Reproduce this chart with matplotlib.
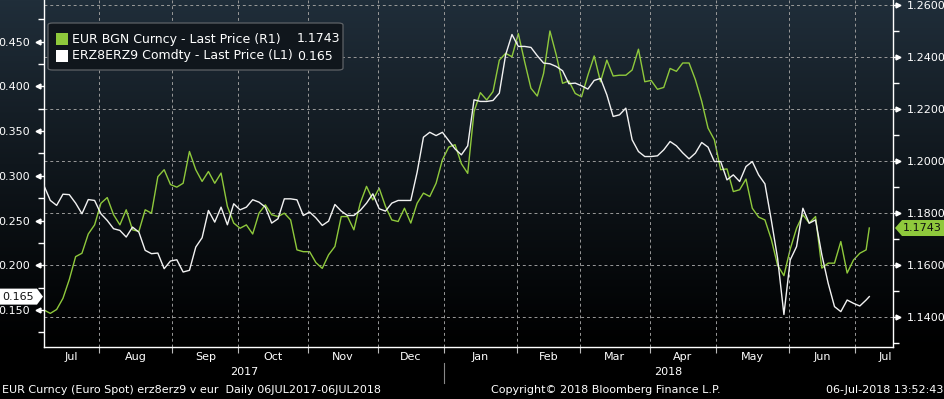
import numpy as np
import pandas as pd
import matplotlib
matplotlib.use("Agg")
import matplotlib.pyplot as plt
from matplotlib.patches import Polygon, FancyBboxPatch, Rectangle
from matplotlib.transforms import IdentityTransform, ScaledTranslation, blended_transform_factory

# chart period (business days, as on the terminal)
start_date = "2017-07-06"
end_date = "2018-07-06"

# EUR BGN Curncy - Last Price (R1), every 2nd business day + last day
eur_price = [
    1.1428, 1.1415, 1.1430, 1.1473, 1.1545, 1.1633, 1.1646, 1.1720, 1.1755, 1.1838,
    1.1860, 1.1794, 1.1755, 1.1813, 1.1736, 1.1730, 1.1813, 1.1800, 1.1940, 1.1967,
    1.1910, 1.1900, 1.1915, 1.2037, 1.1967, 1.1922, 1.1960, 1.1915, 1.1954, 1.1826,
    1.1762, 1.1742, 1.1755, 1.1720, 1.1800, 1.1832, 1.1794, 1.1787, 1.1800, 1.1774,
    1.1659, 1.1652, 1.1652, 1.1610, 1.1588, 1.1640, 1.1672, 1.1787, 1.1787, 1.1736,
    1.1838, 1.1903, 1.1851, 1.1896, 1.1826, 1.1774, 1.1768, 1.1819, 1.1762, 1.1838,
    1.1877, 1.1864, 1.1915, 1.2005, 1.2054, 1.2063, 1.1990, 1.1953, 1.2190, 1.2263,
    1.2235, 1.2267, 1.2388, 1.2414, 1.2401, 1.2490, 1.2382, 1.2280, 1.2250, 1.2337,
    1.2500, 1.2408, 1.2299, 1.2308, 1.2260, 1.2247, 1.2330, 1.2404, 1.2305, 1.2388,
    1.2327, 1.2330, 1.2330, 1.2350, 1.2430, 1.2305, 1.2310, 1.2276, 1.2283, 1.2356,
    1.2345, 1.2377, 1.2377, 1.2313, 1.2230, 1.2127, 1.2082, 1.1967, 1.1970, 1.1883,
    1.1890, 1.1931, 1.1819, 1.1785, 1.1774, 1.1700, 1.1600, 1.1560, 1.1662, 1.1742,
    1.1794, 1.1762, 1.1787, 1.1589, 1.1608, 1.1608, 1.1691, 1.1570, 1.1620, 1.1646,
    1.1659, 1.1743,
]

# ERZ8ERZ9 Comdty - Last Price (L1)
erz_price = [
    0.2890, 0.2725, 0.2670, 0.2795, 0.2790, 0.2695, 0.2576, 0.2735, 0.2725, 0.2576,
    0.2501, 0.2409, 0.2390, 0.2316, 0.2427, 0.2371, 0.2167, 0.2130, 0.2137, 0.1962,
    0.2048, 0.2062, 0.1925, 0.1944, 0.2204, 0.2308, 0.2613, 0.2483, 0.2650, 0.2453,
    0.2688, 0.2620, 0.2650, 0.2733, 0.2706, 0.2650, 0.2472, 0.2520, 0.2743, 0.2743,
    0.2732, 0.2557, 0.2595, 0.2530, 0.2446, 0.2494, 0.2680, 0.2606, 0.2557, 0.2557,
    0.2613, 0.2695, 0.2799, 0.2632, 0.2606, 0.2695, 0.2725, 0.2725, 0.2725, 0.3040,
    0.3432, 0.3487, 0.3450, 0.3487, 0.3394, 0.3301, 0.3235, 0.3336, 0.3850, 0.3832,
    0.3832, 0.3843, 0.3925, 0.4354, 0.4580, 0.4447, 0.4447, 0.4436, 0.4343, 0.4261,
    0.4253, 0.4223, 0.4175, 0.4030, 0.4037, 0.4007, 0.3970, 0.4067, 0.4089, 0.3906,
    0.3664, 0.3682, 0.3757, 0.3403, 0.3272, 0.3216, 0.3216, 0.3224, 0.3291, 0.3384,
    0.3336, 0.3257, 0.3190, 0.3254, 0.3373, 0.3321, 0.3160, 0.3160, 0.2955, 0.3011,
    0.2937, 0.3104, 0.3160, 0.3011, 0.2910, 0.2508, 0.2079, 0.1450, 0.2060, 0.2209,
    0.2638, 0.2470, 0.2508, 0.2116, 0.1799, 0.1538, 0.1482, 0.1612, 0.1575, 0.1545,
    0.1612, 0.1650,
]

left_ticks = [0.150, 0.200, 0.250, 0.300, 0.350, 0.400, 0.450]
left_minor = [0.125, 0.175, 0.225, 0.275, 0.325, 0.375, 0.425, 0.475]
right_ticks = [1.14, 1.16, 1.18, 1.20, 1.22, 1.24, 1.26]
right_minor = [1.13, 1.15, 1.17, 1.19, 1.21, 1.23, 1.25]
legend_rows = [("EUR BGN Curncy - Last Price (R1)", "1.1743"),
               ("ERZ8ERZ9 Comdty - Last Price (L1)", "0.165")]
footer_left = "EUR Curncy (Euro Spot) erz8erz9 v eur  Daily 06JUL2017-06JUL2018"
footer_mid = "Copyright\u00a9 2018 Bloomberg Finance L.P."
footer_right = "06-Jul-2018 13:52:43"

GREEN = "#8fc93c"
WHITE = "#f2f2f2"
GRID = "#9a9a9a"
plt.rcParams["font.family"] = ["DejaVu Sans"]

bdays = pd.bdate_range(start_date, end_date)
x_idx = np.r_[np.arange(0, len(bdays), 2), len(bdays) - 1]
n = min(len(x_idx), len(eur_price), len(erz_price))

fig = plt.figure(figsize=(9.45, 3.99), dpi=100)
fig.patch.set_facecolor("black")

# background gradient, dark slate at the top fading to black
bg = fig.add_axes([0, 0, 1, 1], zorder=-10)
rows = np.arange(399)
frac = np.clip(1 - rows / 350.0, 0, 1) ** 1.1
top = np.array([32, 46, 58]) / 255.0
img = frac[:, None, None] * top[None, None, :]
bg.imshow(img, aspect="auto", extent=[0, 1, 0, 1])
bg.axis("off")

ax = fig.add_axes([44 / 945, 1 - 346.7 / 399, 849 / 945, 346.7 / 399])
ax2 = ax.twinx()
ax.set_zorder(2)
ax2.set_zorder(1)
ax.patch.set_alpha(0)
ax2.patch.set_alpha(0)

ax2.plot(x_idx[:n], eur_price[:n], color=GREEN, lw=1.0, zorder=3)
ax.plot(x_idx[:n], erz_price[:n], color=WHITE, lw=1.0, zorder=3)

ax.set_xlim(0, 268.5)
ax.set_ylim(0.1090, 0.4966)
ax2.set_ylim(1.1287, 1.2619)

# month boundaries
months = bdays.to_period("M")
starts = np.where(months[1:] != months[:-1])[0] + 1
bounds = starts - 0.5
ax.set_xticks(bounds)
ax.set_xticklabels([])
ax.tick_params(axis="x", length=4, width=0.8, color="#bbbbbb", direction="out")
for b in bounds:
    ax.axvline(b, color=GRID, lw=0.7, ls=(0, (3, 3)), zorder=1)
for v in right_ticks:
    ax2.axhline(v, color=GRID, lw=0.7, ls=(0, (3, 3)), zorder=1)

# month and year labels
xtr = blended_transform_factory(ax.transData, ax.transAxes)
edges = np.r_[ax.get_xlim()[0], bounds, ax.get_xlim()[1]]
month_starts = [bdays[0]] + [bdays[s] for s in starts]
for i, d in enumerate(month_starts):
    if i == len(month_starts) - 1:
        ax.text(edges[-1] - 0.3, -0.03, d.strftime("%b"), transform=xtr, ha="right",
                va="center", color="white", fontsize=8)
    else:
        ax.text((edges[i] + edges[i + 1]) / 2, -0.03, d.strftime("%b"), transform=xtr,
                ha="center", va="center", color="white", fontsize=8)
years = sorted(set(d.year for d in month_starts))
for yr in years:
    sel = [i for i, d in enumerate(month_starts) if d.year == yr]
    x0, x1 = edges[sel[0]], edges[sel[-1] + 1]
    ax.text((x0 + x1) / 2, -0.073, str(yr), transform=xtr, ha="center", va="center",
            color="white", fontsize=8)
    if sel[0] > 0:
        ax.plot([x0, x0], [-0.046, -0.105], transform=xtr, color="#888888", lw=0.8,
                clip_on=False)

# y axes
ax.set_yticks(left_ticks)
ax.set_yticklabels(["%.3f" % v for v in left_ticks])
ax.set_yticks(left_minor, minor=True)
ax2.set_yticks(right_ticks)
ax2.set_yticklabels(["%.4f" % v for v in right_ticks])
ax2.set_yticks(right_minor, minor=True)
for a in (ax, ax2):
    a.tick_params(axis="y", which="major", length=3, width=1, color="white",
                  labelcolor="white", labelsize=8, pad=7)
    a.tick_params(axis="y", which="minor", length=4, width=1, color="white")
    for s in a.spines.values():
        s.set_visible(False)
ax.spines["left"].set_visible(True)
ax.spines["bottom"].set_visible(True)
ax2.spines["right"].set_visible(True)
for s in (ax.spines["left"], ax.spines["bottom"], ax2.spines["right"]):
    s.set_color("white")
    s.set_linewidth(1)

# bloomberg style triangles on the major ticks
tri_l = ax.get_yaxis_transform() + ScaledTranslation(-0.055, 0, fig.dpi_scale_trans)
ax.plot([0] * len(left_ticks), left_ticks, ls="none", marker="<", ms=3.5,
        color="white", transform=tri_l, clip_on=False)
tri_r = ax2.get_yaxis_transform() + ScaledTranslation(0.055, 0, fig.dpi_scale_trans)
ax2.plot([1] * len(right_ticks), right_ticks, ls="none", marker=">", ms=3.5,
         color="white", transform=tri_r, clip_on=False)

# last value tags on both axes
idt = IdentityTransform()
yl = ax.transData.transform((0, erz_price[n - 1]))[1]
xl = ax.transAxes.transform((0, 0))[0]
fig.add_artist(Polygon([(0, yl - 8), (xl - 7, yl - 8), (xl - 1, yl), (xl - 7, yl + 8), (0, yl + 8)],
                       closed=True, fc="white", ec="none", transform=idt, zorder=6))
fig.text((xl - 7) / 2, yl, "%.3f" % erz_price[n - 1], transform=idt, ha="center",
         va="center", color="#111111", fontsize=8, zorder=7)
yr_ = ax2.transData.transform((0, eur_price[n - 1]))[1]
xr = ax2.transAxes.transform((1, 0))[0]
fig.add_artist(Polygon([(xr + 2, yr_), (xr + 9, yr_ - 8), (945, yr_ - 8), (945, yr_ + 8), (xr + 9, yr_ + 8)],
                       closed=True, fc=GREEN, ec="none", transform=idt, zorder=6))
fig.text(xr + 10, yr_, "%.4f" % eur_price[n - 1], transform=idt, ha="left",
         va="center", color="#111111", fontsize=8, zorder=7)

# legend box
fig.add_artist(FancyBboxPatch((48 / 945, 1 - 70 / 399), 295 / 945, 47 / 399,
                              boxstyle="round,pad=0,rounding_size=0.005",
                              transform=fig.transFigure, fc="#10161c", ec="#5e6266",
                              lw=0.9, zorder=5))
for i, ((label, val), col) in enumerate(zip(legend_rows, [GREEN, "white"])):
    yc = 39 + 17 * i
    fig.add_artist(Rectangle((56 / 945, 1 - (yc + 6) / 399), 12 / 945, 12 / 399,
                             transform=fig.transFigure, fc=col, ec="none", zorder=6))
    fig.text(72 / 945, 1 - yc / 399, label, ha="left", va="center", color="white",
             fontsize=9, zorder=7)
    fig.text(297 / 945, 1 - yc / 399, val, ha="left", va="center", color="white",
             fontsize=9, zorder=7)

# footer
fig.text(2 / 945, 9 / 399, footer_left, ha="left", va="center", color="white", fontsize=8)
fig.text(491 / 945, 9 / 399, footer_mid, ha="left", va="center", color="white", fontsize=8)
fig.text(943 / 945, 9 / 399, footer_right, ha="right", va="center", color="white", fontsize=8)

fig.savefig("out.png", dpi=100, facecolor=fig.get_facecolor())
